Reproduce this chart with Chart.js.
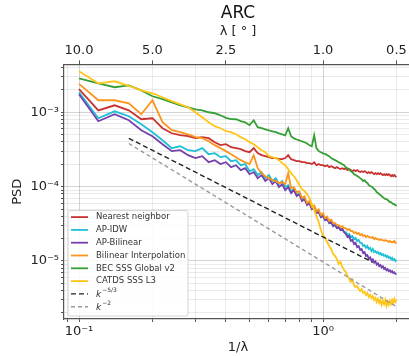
<!DOCTYPE html>
<html>
<head>
<meta charset="utf-8">
<script src="https://cdn.jsdelivr.net/npm/chart.js@4"></script>
<style>
  html, body { margin: 0; padding: 0; background: #fff; overflow: hidden; }
  #wrap { width: 409px; height: 356px; overflow: hidden; }
</style>
</head>
<body>
<div id="wrap"><canvas id="cv" width="416" height="356"></canvas></div>
<script>
// wavenumber 1/lambda
const freq = [
  0.10, 0.12, 0.14, 0.16, 0.18, 0.20, 0.22, 0.24, 0.26, 0.28,
  0.30, 0.32, 0.34, 0.36, 0.38, 0.40, 0.42, 0.44, 0.46, 0.48,
  0.50, 0.52, 0.54, 0.56, 0.58, 0.60, 0.62, 0.64, 0.66, 0.68,
  0.70, 0.72, 0.74, 0.76, 0.78, 0.80, 0.82, 0.84, 0.86, 0.88,
  0.90, 0.92, 0.94, 0.96, 0.98, 1.00, 1.02, 1.04, 1.06, 1.08,
  1.10, 1.12, 1.14, 1.16, 1.18, 1.20, 1.22, 1.24, 1.26, 1.28,
  1.30, 1.32, 1.34, 1.36, 1.38, 1.40, 1.42, 1.44, 1.46, 1.48,
  1.50, 1.52, 1.54, 1.56, 1.58, 1.60, 1.62, 1.64, 1.66, 1.68,
  1.70, 1.72, 1.74, 1.76, 1.78, 1.80, 1.82, 1.84, 1.86, 1.88,
  1.90, 1.92, 1.94, 1.96, 1.98, 2.00
];

const nearestNeighbor = [
  2.04e-3, 1.06e-3, 1.24e-3, 1.06e-3, 8.05e-4, 8.31e-4, 6.10e-4, 5.22e-4, 4.91e-4, 4.76e-4,
  4.48e-4, 4.62e-4, 4.48e-4, 3.96e-4, 3.61e-4, 3.72e-4, 3.39e-4, 3.29e-4, 3.19e-4, 3.00e-4,
  2.90e-4, 3.29e-4, 2.82e-4, 2.65e-4, 2.57e-4, 2.49e-4, 2.42e-4, 2.42e-4, 2.34e-4, 2.34e-4,
  2.42e-4, 2.65e-4, 2.34e-4, 2.27e-4, 2.20e-4, 2.20e-4, 2.13e-4, 2.13e-4, 2.07e-4, 2.07e-4,
  2.01e-4, 2.13e-4, 1.94e-4, 2.01e-4, 1.94e-4, 1.94e-4, 1.88e-4, 1.94e-4, 1.83e-4, 1.88e-4,
  1.83e-4, 1.77e-4, 1.83e-4, 1.77e-4, 1.72e-4, 1.77e-4, 1.72e-4, 1.77e-4, 1.67e-4, 1.72e-4,
  1.67e-4, 1.61e-4, 1.67e-4, 1.61e-4, 1.67e-4, 1.61e-4, 1.57e-4, 1.61e-4, 1.57e-4, 1.61e-4,
  1.57e-4, 1.52e-4, 1.57e-4, 1.52e-4, 1.57e-4, 1.52e-4, 1.47e-4, 1.52e-4, 1.47e-4, 1.52e-4,
  1.47e-4, 1.52e-4, 1.47e-4, 1.43e-4, 1.47e-4, 1.43e-4, 1.47e-4, 1.43e-4, 1.47e-4, 1.43e-4,
  1.38e-4, 1.43e-4, 1.38e-4, 1.43e-4, 1.38e-4, 1.34e-4
];

const apIdw = [
  1.86e-3, 8.31e-4, 1.03e-3, 8.84e-4, 6.90e-4, 5.39e-4, 4.21e-4, 3.29e-4, 3.50e-4, 3.09e-4,
  3.00e-4, 3.29e-4, 2.73e-4, 2.82e-4, 2.49e-4, 2.57e-4, 2.20e-4, 2.27e-4, 1.94e-4, 2.01e-4,
  1.61e-4, 1.72e-4, 1.43e-4, 1.57e-4, 1.30e-4, 1.43e-4, 1.19e-4, 1.30e-4, 1.08e-4, 1.19e-4,
  9.84e-5, 1.05e-4, 8.70e-5, 9.25e-5, 7.69e-5, 8.18e-5, 6.59e-5, 7.01e-5, 5.82e-5, 6.20e-5,
  4.99e-5, 5.31e-5, 4.41e-5, 4.69e-5, 3.90e-5, 4.15e-5, 3.55e-5, 3.78e-5, 3.24e-5, 3.44e-5,
  2.95e-5, 3.14e-5, 2.77e-5, 2.86e-5, 2.61e-5, 2.69e-5, 2.45e-5, 2.45e-5, 2.23e-5, 2.31e-5,
  2.10e-5, 2.17e-5, 1.97e-5, 2.04e-5, 1.86e-5, 1.91e-5, 1.75e-5, 1.75e-5, 1.59e-5, 1.64e-5,
  1.50e-5, 1.59e-5, 1.45e-5, 1.50e-5, 1.36e-5, 1.45e-5, 1.32e-5, 1.36e-5, 1.28e-5, 1.32e-5,
  1.24e-5, 1.28e-5, 1.20e-5, 1.24e-5, 1.17e-5, 1.20e-5, 1.13e-5, 1.17e-5, 1.10e-5, 1.13e-5,
  1.06e-5, 1.10e-5, 1.03e-5, 1.06e-5, 1.00e-5, 1.03e-5
];

const apBilinear = [
  1.75e-3, 7.57e-4, 9.40e-4, 7.81e-4, 5.73e-4, 4.76e-4, 3.72e-4, 3.00e-4, 3.09e-4, 2.65e-4,
  2.42e-4, 2.57e-4, 2.13e-4, 2.27e-4, 2.01e-4, 2.13e-4, 1.83e-4, 1.94e-4, 1.67e-4, 1.77e-4,
  1.47e-4, 1.57e-4, 1.30e-4, 1.43e-4, 1.19e-4, 1.30e-4, 1.08e-4, 1.19e-4, 9.84e-5, 1.08e-4,
  8.97e-5, 9.84e-5, 8.18e-5, 8.97e-5, 7.46e-5, 7.93e-5, 6.39e-5, 6.80e-5, 5.65e-5, 6.01e-5,
  4.99e-5, 5.15e-5, 4.41e-5, 4.55e-5, 3.90e-5, 4.02e-5, 3.55e-5, 3.66e-5, 3.24e-5, 3.34e-5,
  2.95e-5, 3.04e-5, 2.77e-5, 2.86e-5, 2.61e-5, 2.69e-5, 2.45e-5, 2.31e-5, 2.10e-5, 2.17e-5,
  1.86e-5, 1.92e-5, 1.69e-5, 1.75e-5, 1.54e-5, 1.59e-5, 1.41e-5, 1.45e-5, 1.28e-5, 1.32e-5,
  1.17e-5, 1.20e-5, 1.07e-5, 1.12e-5, 1.01e-5, 1.05e-5, 9.50e-6, 9.90e-6, 8.95e-6, 9.30e-6,
  8.50e-6, 8.84e-6, 8.20e-6, 8.50e-6, 7.80e-6, 8.06e-6, 7.50e-6, 7.75e-6, 7.30e-6, 7.50e-6,
  7.10e-6, 7.30e-6, 6.90e-6, 7.05e-6, 6.70e-6, 6.69e-6
];

const bilinearInterp = [
  2.41e-3, 1.45e-3, 1.45e-3, 1.32e-3, 9.40e-4, 1.45e-3, 7.34e-4, 5.73e-4, 5.39e-4, 5.06e-4,
  4.62e-4, 4.48e-4, 4.08e-4, 3.61e-4, 3.29e-4, 3.00e-4, 2.73e-4, 2.49e-4, 2.27e-4, 2.13e-4,
  2.01e-4, 2.65e-4, 1.77e-4, 1.52e-4, 1.38e-4, 1.30e-4, 1.22e-4, 1.19e-4, 1.11e-4, 1.15e-4,
  1.08e-4, 1.52e-4, 9.54e-5, 9.80e-5, 8.43e-5, 8.60e-5, 7.01e-5, 7.40e-5, 6.01e-5, 6.40e-5,
  5.31e-5, 5.60e-5, 4.69e-5, 4.95e-5, 4.15e-5, 4.40e-5, 3.78e-5, 3.95e-5, 3.44e-5, 3.60e-5,
  3.24e-5, 3.24e-5, 3.04e-5, 3.04e-5, 2.86e-5, 2.95e-5, 2.77e-5, 2.77e-5, 2.61e-5, 2.69e-5,
  2.53e-5, 2.53e-5, 2.38e-5, 2.45e-5, 2.31e-5, 2.38e-5, 2.23e-5, 2.31e-5, 2.17e-5, 2.23e-5,
  2.10e-5, 2.17e-5, 2.10e-5, 2.10e-5, 2.04e-5, 2.10e-5, 1.97e-5, 2.04e-5, 1.97e-5, 1.97e-5,
  1.91e-5, 1.97e-5, 1.91e-5, 1.91e-5, 1.86e-5, 1.91e-5, 1.86e-5, 1.86e-5, 1.80e-5, 1.86e-5,
  1.80e-5, 1.80e-5, 1.80e-5, 1.86e-5, 1.75e-5, 1.80e-5
];

const becGlobalV2 = [
  2.86e-3, 2.45e-3, 2.17e-3, 2.30e-3, 1.97e-3, 1.64e-3, 1.50e-3, 1.36e-3, 1.24e-3, 1.16e-3,
  1.09e-3, 1.06e-3, 1.00e-3, 9.70e-4, 9.10e-4, 8.40e-4, 8.10e-4, 8.05e-4, 7.60e-4, 7.30e-4,
  6.70e-4, 7.80e-4, 6.30e-4, 6.10e-4, 5.90e-4, 5.70e-4, 5.55e-4, 5.40e-4, 5.20e-4, 5.05e-4,
  4.90e-4, 6.10e-4, 4.75e-4, 4.45e-4, 4.30e-4, 4.20e-4, 4.05e-4, 3.95e-4, 3.80e-4, 3.60e-4,
  3.50e-4, 4.90e-4, 3.30e-4, 3.00e-4, 2.90e-4, 2.80e-4, 2.75e-4, 2.65e-4, 2.57e-4, 2.42e-4,
  2.34e-4, 2.27e-4, 2.20e-4, 2.13e-4, 2.07e-4, 2.00e-4, 1.94e-4, 1.82e-4, 1.77e-4, 1.71e-4,
  1.61e-4, 1.56e-4, 1.47e-4, 1.43e-4, 1.39e-4, 1.35e-4, 1.30e-4, 1.26e-4, 1.19e-4, 1.22e-4,
  1.15e-4, 1.12e-4, 1.05e-4, 1.02e-4, 1.00e-4, 9.70e-5, 9.30e-5, 9.00e-5, 8.40e-5, 8.20e-5,
  7.90e-5, 7.70e-5, 7.45e-5, 7.20e-5, 7.00e-5, 6.80e-5, 6.80e-5, 6.60e-5, 6.40e-5, 6.20e-5,
  6.20e-5, 6.00e-5, 5.80e-5, 5.80e-5, 5.65e-5, 5.50e-5
];

const catdsL3 = [
  3.55e-3, 2.45e-3, 2.61e-3, 2.27e-3, 1.97e-3, 1.80e-3, 1.59e-3, 1.41e-3, 1.28e-3, 1.17e-3,
  1.00e-3, 8.57e-4, 7.34e-4, 6.49e-4, 6.10e-4, 5.56e-4, 5.39e-4, 5.06e-4, 4.62e-4, 4.34e-4,
  3.96e-4, 3.72e-4, 3.39e-4, 3.09e-4, 2.90e-4, 2.57e-4, 2.49e-4, 2.42e-4, 2.27e-4, 2.07e-4,
  1.94e-4, 1.72e-4, 1.52e-4, 1.38e-4, 1.22e-4, 1.05e-4, 9.25e-5, 8.70e-5, 7.93e-5, 7.01e-5,
  5.82e-5, 4.84e-5, 4.02e-5, 3.34e-5, 2.61e-5, 2.23e-5, 2.04e-5, 1.80e-5, 1.59e-5, 1.45e-5,
  1.24e-5, 1.17e-5, 1.06e-5, 9.11e-6, 9.69e-6, 8.31e-6, 7.57e-6, 7.12e-6, 6.29e-6, 5.73e-6,
  5.23e-6, 5.56e-6, 4.76e-6, 4.48e-6, 4.62e-6, 4.21e-6, 3.96e-6, 4.21e-6, 3.72e-6, 3.84e-6,
  3.50e-6, 3.72e-6, 3.29e-6, 3.50e-6, 3.19e-6, 3.39e-6, 3.00e-6, 3.19e-6, 2.82e-6, 3.09e-6,
  2.73e-6, 3.00e-6, 2.57e-6, 2.91e-6, 2.65e-6, 3.00e-6, 2.49e-6, 2.82e-6, 2.57e-6, 2.91e-6,
  2.65e-6, 3.00e-6, 2.73e-6, 3.09e-6, 2.82e-6, 3.00e-6
];

// reference slopes (end points)
const k53Freq = [0.16, 1.6];
const k53Psd = [4.46e-4, 9.6e-6];
const k2Freq = [0.16, 2.0];
const k2Psd = [3.8e-4, 2.43e-6];

// ticks
const xGridTicks = [0.09, 0.1, 0.2, 0.3, 0.4, 0.5, 0.6, 0.7, 0.8, 0.9, 1, 2];
const xLabelTicks = [0.1, 1];
const xLabelText = ['10⁻¹', '10⁰'];
const yGridTicks = [2e-6, 3e-6, 4e-6, 5e-6, 6e-6, 7e-6, 8e-6, 9e-6,
  1e-5, 2e-5, 3e-5, 4e-5, 5e-5, 6e-5, 7e-5, 8e-5, 9e-5,
  1e-4, 2e-4, 3e-4, 4e-4, 5e-4, 6e-4, 7e-4, 8e-4, 9e-4,
  1e-3, 2e-3, 3e-3, 4e-3];
const yLabelTicks = [1e-5, 1e-4, 1e-3];
const yLabelText = ['10⁻⁵', '10⁻⁴', '10⁻³'];
const topTickValues = [0.1, 0.2, 0.4, 1, 2];
const topTickLabels = ['10.0', '5.0', '2.5', '1.0', '0.5'];

Chart.defaults.font.family = "'DejaVu Sans', sans-serif";
Chart.defaults.color = '#222';

function pts(xs, ys) {
  return xs.map((x, i) => ({x: x, y: ys[i]}));
}

const series = [
  {label: 'Nearest neighbor', data: pts(freq, nearestNeighbor), color: '#c8322f'},
  {label: 'AP-IDW', data: pts(freq, apIdw), color: '#1fbfd6'},
  {label: 'AP-Bilinear', data: pts(freq, apBilinear), color: '#7440ad'},
  {label: 'Bilinear Interpolation', data: pts(freq, bilinearInterp), color: '#fb951c'},
  {label: 'BEC SSS Global v2', data: pts(freq, becGlobalV2), color: '#36a036'},
  {label: 'CATDS SSS L3', data: pts(freq, catdsL3), color: '#ffc518'},
  {label: 'k', sup: '−5/3', data: pts(k53Freq, k53Psd), color: '#222', dash: [5, 3], w: 1.4},
  {label: 'k', sup: '−2', data: pts(k2Freq, k2Psd), color: '#999', dash: [4, 3], w: 1.4}
];

const datasets = series.map((s, i) => ({
  label: s.label,
  sup: s.sup,
  data: s.data,
  borderColor: s.color,
  backgroundColor: s.color,
  borderWidth: s.w || 1.8,
  borderDash: s.dash || [],
  pointRadius: 0,
  tension: 0,
  fill: false,
  order: 20 - i
}));

// legend box inside the lower left of the plot
const boxLegend = {
  id: 'boxLegend',
  afterDatasetsDraw(chart) {
    const ctx = chart.ctx, a = chart.chartArea;
    const sets = chart.data.datasets;
    const rowH = 12.8, w = 120, h = rowH * sets.length + 3;
    const left = a.left + 4, top = a.bottom - 3 - h;
    ctx.save();
    ctx.beginPath();
    if (ctx.roundRect) ctx.roundRect(left, top, w, h, 2); else ctx.rect(left, top, w, h);
    ctx.fillStyle = 'rgba(255,255,255,0.85)';
    ctx.fill();
    ctx.strokeStyle = '#d4d4d4';
    ctx.lineWidth = 1;
    ctx.stroke();
    sets.forEach((ds, i) => {
      const y = top + 6.5 + i * rowH;
      ctx.beginPath();
      ctx.setLineDash(ds.borderDash);
      ctx.strokeStyle = ds.borderColor;
      ctx.lineWidth = ds.borderWidth;
      ctx.moveTo(left + 3, y);
      ctx.lineTo(left + 20, y);
      ctx.stroke();
      ctx.setLineDash([]);
      ctx.fillStyle = '#333';
      ctx.textBaseline = 'middle';
      if (ds.sup) {
        ctx.font = "italic 9px 'DejaVu Sans'";
        ctx.fillText(ds.label, left + 28, y + 1);
        const kw = ctx.measureText(ds.label).width;
        ctx.font = "6px 'DejaVu Sans'";
        ctx.fillText(ds.sup, left + 28 + kw + 1, y - 3);
      } else {
        ctx.font = "8.5px 'DejaVu Sans'";
        ctx.fillText(ds.label, left + 28, y);
      }
    });
    ctx.restore();
  }
};

function gridColor(labelTicks) {
  return (c) => (c.tick && labelTicks.indexOf(c.tick.value) >= 0) ? 'rgba(0,0,0,0.17)' : 'rgba(0,0,0,0.08)';
}

new Chart(document.getElementById('cv'), {
  type: 'line',
  data: {datasets: datasets},
  plugins: [boxLegend],
  options: {
    responsive: false,
    animation: false,
    devicePixelRatio: 1,
    layout: {padding: {left: 0, right: 4, top: 0, bottom: 0}},
    plugins: {
      legend: {display: false},
      tooltip: {enabled: false},
      title: {
        display: true,
        text: 'ARC',
        fullSize: false,
        color: '#111',
        font: {size: 17, weight: 'normal'},
        padding: {top: 3, bottom: 0}
      }
    },
    scales: {
      x: {
        type: 'logarithmic',
        position: 'bottom',
        min: 0.0868,
        max: 2.316,
        afterBuildTicks: (s) => { s.ticks = xGridTicks.map(v => ({value: v})); },
        afterFit: (s) => { s.height = 37; },
        ticks: {
          autoSkip: false, maxRotation: 0, padding: 2,
          font: {size: 13}, color: '#222',
          callback: (v) => { const k = xLabelTicks.indexOf(v); return k >= 0 ? xLabelText[k] : ''; }
        },
        grid: {color: gridColor(xLabelTicks), tickLength: 3, tickColor: '#555'},
        border: {color: '#555', width: 1.2},
        title: {display: true, text: '1/λ', font: {size: 13}, color: '#222', padding: {top: 0, bottom: 1}}
      },
      x2: {
        type: 'logarithmic',
        position: 'top',
        min: 0.0868,
        max: 2.316,
        afterBuildTicks: (s) => { s.ticks = topTickValues.map(v => ({value: v})); },
        afterFit: (s) => { s.height = 41; },
        ticks: {
          autoSkip: false, maxRotation: 0, padding: 2,
          font: {size: 13}, color: '#222',
          callback: (v, i) => topTickLabels[i]
        },
        grid: {drawOnChartArea: false, tickLength: 4, tickColor: '#555'},
        border: {color: '#555', width: 1.2},
        title: {display: true, text: 'λ [ ° ]', font: {size: 13}, color: '#222', padding: {top: 0, bottom: 0}}
      },
      y: {
        type: 'logarithmic',
        min: 1.66e-6,
        max: 4.4e-3,
        afterBuildTicks: (s) => { s.ticks = yGridTicks.map(v => ({value: v})); },
        afterFit: (s) => { s.width = 64; },
        ticks: {
          autoSkip: false, padding: 2,
          font: {size: 13}, color: '#222',
          callback: (v) => { const k = yLabelTicks.indexOf(v); return k >= 0 ? yLabelText[k] : ''; }
        },
        grid: {color: gridColor(yLabelTicks), tickLength: 3, tickColor: '#555'},
        border: {color: '#555', width: 1.2},
        title: {display: true, text: 'PSD', font: {size: 13}, color: '#222', padding: {top: 10, bottom: 0}}
      }
    }
  }
});
</script>
</body>
</html>
